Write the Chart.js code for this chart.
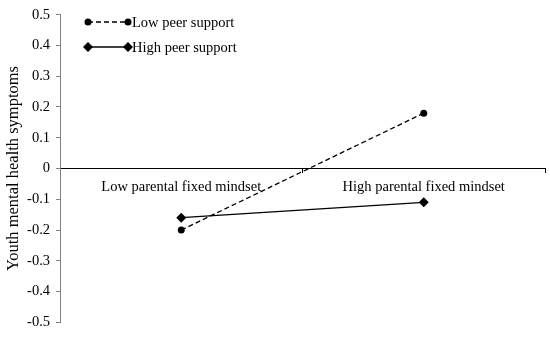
<!DOCTYPE html>
<html>
<head>
<meta charset="utf-8">
<script src="https://cdn.jsdelivr.net/npm/chart.js@4"></script>
<style>
  html, body { margin: 0; padding: 0; background: #fff; }
  #wrap { width: 550px; height: 337px; }
</style>
</head>
<body>
<div id="wrap"><canvas id="chart"></canvas></div>
<script>
// data
const categories = ["Low parental fixed mindset", "High parental fixed mindset"];
const lowPeer = [-0.2, 0.18];
const highPeer = [-0.16, -0.11];
const seriesNames = ["Low peer support", "High peer support"];

const FONT = "'Liberation Serif', 'Times New Roman', serif";

// legend: line sample with a marker at each end, like the original
const legendPlugin = {
  id: "markerLegend",
  afterDraw(chart) {
    const ctx = chart.ctx;
    const items = [
      { y: 22, dash: [5, 3], style: "circle", r: 3.5 },
      { y: 47, dash: [], style: "rectRot", r: 5 }
    ];
    items.forEach((it, i) => {
      ctx.save();
      ctx.strokeStyle = "#000";
      ctx.lineWidth = 1.3;
      ctx.setLineDash(it.dash);
      ctx.beginPath();
      ctx.moveTo(88, it.y);
      ctx.lineTo(128, it.y);
      ctx.stroke();
      ctx.setLineDash([]);
      ctx.fillStyle = "#000";
      Chart.helpers.drawPoint(ctx, { pointStyle: it.style, radius: it.r, borderWidth: 0 }, 88, it.y);
      Chart.helpers.drawPoint(ctx, { pointStyle: it.style, radius: it.r, borderWidth: 0 }, 128, it.y);
      ctx.font = "14.5px " + FONT;
      ctx.textBaseline = "middle";
      ctx.fillText(seriesNames[i], 132, it.y + 1);
      ctx.restore();
    });
  }
};

new Chart(document.getElementById("chart"), {
  type: "line",
  data: {
    labels: categories,
    datasets: [{
      label: seriesNames[0],
      data: lowPeer,
      borderColor: "#000",
      backgroundColor: "#000",
      borderWidth: 1.3,
      borderDash: [5, 3],
      pointStyle: "circle",
      pointRadius: 3.5,
      pointBorderWidth: 0,
      tension: 0
    }, {
      label: seriesNames[1],
      data: highPeer,
      borderColor: "#000",
      backgroundColor: "#000",
      borderWidth: 1.3,
      pointStyle: "rectRot",
      pointRadius: 5,
      pointBorderWidth: 0,
      tension: 0
    }]
  },
  options: {
    responsive: true,
    maintainAspectRatio: false,
    animation: false,
    layout: { padding: { top: 12, right: 3, bottom: 12, left: 0 } },
    plugins: { legend: { display: false }, tooltip: { enabled: false } },
    scales: {
      x: {
        type: "category",
        offset: true,
        position: { y: 0 },
        border: { display: true, color: "#000", width: 1 },
        grid: { drawOnChartArea: false, drawTicks: true, tickLength: 4, color: "#000", offset: true },
        ticks: { color: "#000", padding: 6, font: { family: FONT, size: 14.5 }, maxRotation: 0 }
      },
      y: {
        min: -0.5,
        max: 0.5,
        afterFit(scale) { scale.width = 60; },
        border: { display: true, color: "#808080", width: 1 },
        grid: { drawOnChartArea: false, drawTicks: true, tickLength: 4, color: "#808080" },
        ticks: {
          stepSize: 0.1,
          color: "#000",
          padding: 6,
          font: { family: FONT, size: 14.5 },
          callback: v => String(Number(v.toFixed(1)))
        },
        title: {
          display: true,
          text: "Youth mental health symptoms",
          color: "#000",
          padding: { top: 4, bottom: 0 },
          font: { family: FONT, size: 16.5 }
        }
      }
    }
  },
  plugins: [legendPlugin]
});
</script>
</body>
</html>
